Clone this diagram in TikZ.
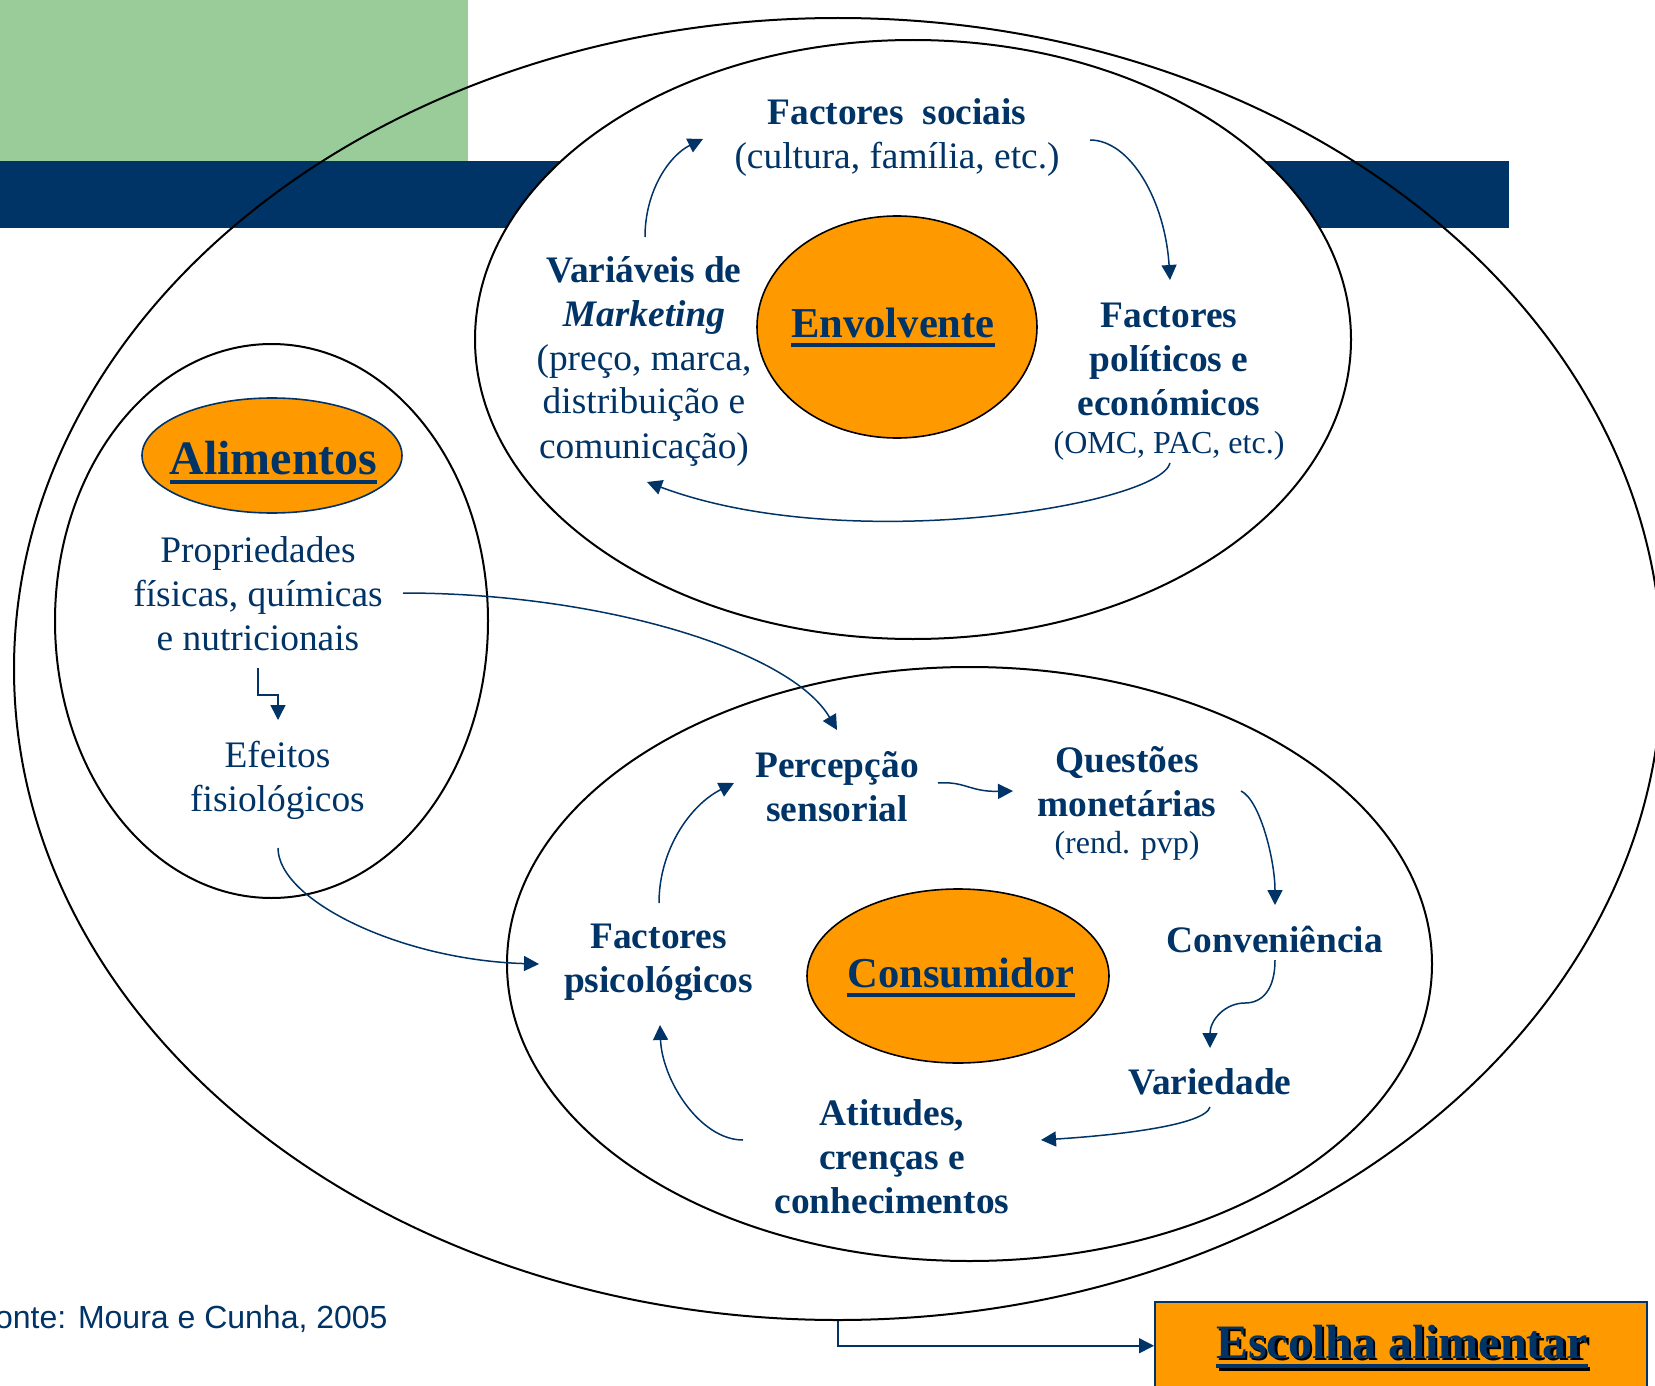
\documentclass[tikz,border=0pt]{standalone}
\usepackage{fontspec}
\setmainfont{Liberation Serif}
\newfontfamily\arialf{Liberation Sans}
\usetikzlibrary{arrows.meta,shapes.geometric}
\definecolor{navy}{HTML}{003366}
\definecolor{orng}{HTML}{FF9900}
\definecolor{grn}{HTML}{99CC99}
\newcommand\stk[1]{\begin{tabular}[t]{@{}c@{}}#1\end{tabular}}
\newcommand\myul[1]{\setbox0=\hbox{#1}\rlap{\copy0}\rule[-5pt]{\wd0}{2pt}}
\begin{document}
\begin{tikzpicture}[x=0.5pt,y=-0.5pt,
  txt/.style={text=navy, inner sep=0pt, anchor=base, font=\fontsize{18.7}{22}\selectfont},
  bx/.style={txt, font=\fontsize{18.7}{22}\selectfont\bfseries},
  sm/.style={txt, font=\fontsize{16}{19}\selectfont},
  big/.style={txt, font=\fontsize{21.3}{25}\selectfont\bfseries},
  huge/.style={txt, font=\fontsize{24}{28}\selectfont\bfseries},
  conn/.style={navy, line width=0.75pt, -{Triangle[length=7.5pt,width=7.5pt]}},
  ring/.style={ellipse, draw=black, line width=1pt, inner sep=0pt},
  blob/.style={ellipse, fill=orng, line width=0.8pt, inner sep=0pt},
]
\useasboundingbox (0,0) rectangle (1655,1386);
% background bands
\fill[grn] (0,0) rectangle (468,161);
\fill[navy] (0,161) rectangle (1509,228);
% rings
\node[ring, minimum width=824pt, minimum height=651pt] (outer) at (838,669) {};
\node[ring, fill=white, minimum width=438pt, minimum height=299.5pt] (envB) at (913,339.5) {};
\node[ring, fill=white, minimum width=216.5pt, minimum height=277pt] (aliB) at (271.5,621) {};
\node[ring, fill=white, minimum width=462.5pt, minimum height=297pt] (conB) at (969.5,964) {};
% orange blobs
\node[blob, draw=navy, minimum width=130pt, minimum height=57.5pt] (aliO) at (272,455.5) {};
\node[blob, draw=black, minimum width=140pt, minimum height=111pt] (envO) at (897,327) {};
\node[blob, draw=black, minimum width=151pt, minimum height=87pt] (conO) at (958,976) {};
% result box
\node[draw=navy, fill=orng, line width=0.75pt, minimum width=246pt, minimum height=44pt,
      anchor=north west, inner sep=0pt] (esc) at (1154,1301) {};
% texts
\node[txt] (fs) at (897,125) {\stk{\textbf{Factores\ \ sociais}\\(cultura, família, etc.)}};
\node[txt] (vm) at (644,282) {\stk{\textbf{Variáveis de}\\\textbf{\textit{Marketing}}\\(preço, marca,\\distribuição e\\comunicação)}};
\node[big] (envT) at (893,337) {\myul{Envolvente}};
\node[bx] (fp) at (1169,327) {\stk{Factores\\políticos e\\económicos}};
\node[sm] (omc) at (1169,453) {(OMC, PAC, etc.)};
\node[huge] (aliT) at (273.5,474) {\myul{Alimentos}};
\node[txt] (prop) at (258,562) {\stk{Propriedades\\físicas, químicas\\e nutricionais}};
\node[txt] (efe) at (277.5,767) {\stk{Efeitos\\fisiológicos}};
\node[bx] (perc) at (837,777) {\stk{Percepção\\sensorial}};
\node[bx] (ques) at (1127,772) {\stk{Questões\\monetárias}};
\node[sm] (rend) at (1127,853) {(rend. pvp)};
\node[bx] (conv) at (1275,952) {Conveniência};
\node[bx] (var) at (1210,1094) {Variedade};
\node[big] (consT) at (961,987) {\myul{Consumidor}};
\node[bx] (ati) at (892,1125) {\stk{Atitudes,\\crenças e\\conhecimentos}};
\node[bx] (psi) at (658.6,948) {\stk{Factores\\psicológicos}};
\node[huge, text=black] (escS) at (1404.5,1360.5) {\myul{Escolha alimentar}};
\node[huge] (escT) at (1402,1358) {\myul{Escolha alimentar}};
\node[anchor=base east, text=navy, inner sep=0pt, font=\arialf\fontsize{16}{19}\selectfont] (src) at (388,1328) {Fonte: Moura e Cunha, 2005};
% arrow end points
\coordinate (a1s) at (645,237);   \coordinate (a1e) at (703,139);
\coordinate (a2s) at (1090,140);  \coordinate (a2e) at (1170,280);
\coordinate (a3s) at (1170,463);  \coordinate (a3e) at (647,482);
\coordinate (a4s) at (258,668);   \coordinate (a4e) at (278,720);
\coordinate (a5s) at (403,593);   \coordinate (a5e) at (837,730);
\coordinate (a6s) at (278,848);   \coordinate (a6e) at (539,964);
\coordinate (a7s) at (659,903);   \coordinate (a7e) at (734,783);
\coordinate (a8s) at (938,783);   \coordinate (a8e) at (1013,791);
\coordinate (a9s) at (1241,791);  \coordinate (a9e) at (1275,905);
\coordinate (a10s) at (1275,960); \coordinate (a10m) at (1245,1003); \coordinate (a10e) at (1210,1048);
\coordinate (a11s) at (1210,1107);\coordinate (a11e) at (1041,1140);
\coordinate (a12s) at (743,1140); \coordinate (a12e) at (660,1025);
% arrows
\draw[conn] (a1s) .. controls (645,190) and (670,155) .. (a1e);
\draw[conn] (a2s) .. controls (1130,140) and (1165,200) .. (a2e);
\draw[conn] (a3s) .. controls (1160,505) and (847,557) .. (a3e);
\draw[conn] (a4s) -- (258,695) -- (278,695) -- (a4e);
\draw[conn] (a5s) .. controls (600,593) and (790,650) .. (a5e);
\draw[conn] (a6s) .. controls (278,900) and (400,960) .. (a6e);
\draw[conn] (a7s) .. controls (659,850) and (690,805) .. (a7e);
\draw[conn] (a8s) .. controls (965,781) and (970,792) .. (a8e);
\draw[conn] (a9s) .. controls (1260,800) and (1275,860) .. (a9e);
\draw[conn] (a10s) .. controls (1275,990) and (1262,1003) .. (a10m) .. controls (1225,1003) and (1210,1020) .. (a10e);
\draw[conn] (a11s) .. controls (1205,1125) and (1120,1135) .. (a11e);
\draw[conn] (a12s) .. controls (700,1140) and (662,1080) .. (a12e);
\draw[conn] (outer.south) |- (esc.west);
\end{tikzpicture}
\end{document}
